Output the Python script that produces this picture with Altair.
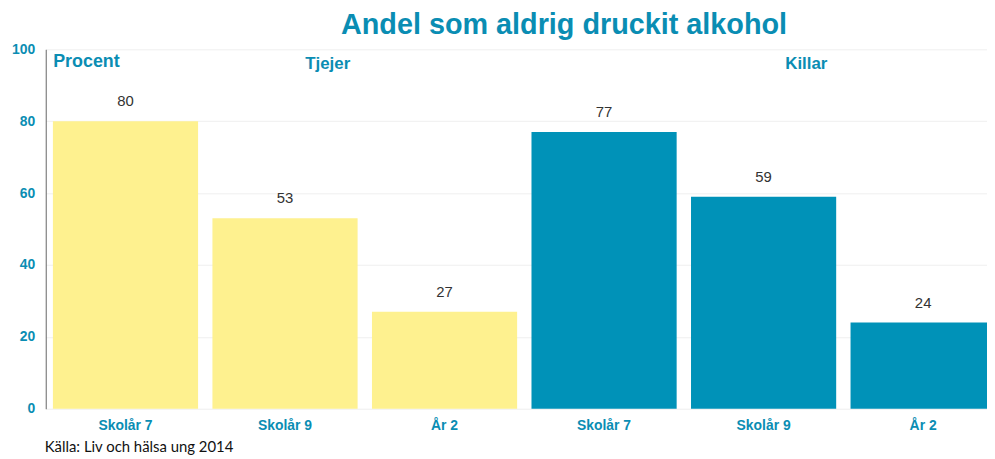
import altair as alt
import pandas as pd

groups = ["Tjejer", "Tjejer", "Tjejer", "Killar", "Killar", "Killar"]
grades = ["Skolår 7", "Skolår 9", "År 2", "Skolår 7", "Skolår 9", "År 2"]
values = [80, 53, 27, 77, 59, 24]
colors_by_group = {"Tjejer": "#FEF18F", "Killar": "#0092B8"}

keys = [f"{g}|{c}" for g, c in zip(groups, grades)]
df = pd.DataFrame({"key": keys, "group": groups, "grade": grades, "value": values})

head_df = pd.DataFrame({"key": [keys[1], keys[4]], "label": ["Tjejer", "Killar"], "y": [96, 96]})

TEAL = "#0A8DB3"
FONT = "Liberation Sans"

x_scale = alt.Scale(domain=keys, paddingInner=0.09, paddingOuter=0.045)
y_scale = alt.Scale(domain=[0, 100], nice=False)

base = alt.Chart(df)

bars = base.mark_bar().encode(
    x=alt.X("key:N", scale=x_scale, sort=keys, title=None,
            axis=alt.Axis(labelExpr="split(datum.label, '|')[1]", labelAngle=0,
                          labelFont=FONT, labelFontSize=14, labelFontWeight="bold",
                          labelColor=TEAL, labelPadding=10, ticks=False, domain=False,
                          grid=False)),
    y=alt.Y("value:Q", scale=y_scale,
            axis=alt.Axis(values=[0, 20, 40, 60, 80, 100], title="Procent", titleAngle=0,
                          titleX=7, titleY=12, titleAlign="left", titleBaseline="middle",
                          titleFont=FONT, titleFontSize=18, titleFontWeight="bold",
                          titleColor=TEAL, labelFont=FONT, labelFontSize=14,
                          labelFontWeight="bold", labelColor=TEAL, labelPadding=11,
                          ticks=False, domainColor="#666666", domainWidth=1,
                          gridColor="#EFEFEF", gridWidth=1)),
    color=alt.Color("group:N", scale=alt.Scale(domain=list(colors_by_group.keys()),
                                               range=list(colors_by_group.values())),
                    legend=None),
)

labels = base.mark_text(baseline="bottom", dy=-12, font=FONT, fontSize=15, color="#333333").encode(
    x=alt.X("key:N", scale=x_scale, sort=keys),
    y=alt.Y("value:Q", scale=y_scale),
    text=alt.Text("value:Q"),
)

heads = alt.Chart(head_df).mark_text(dx=43, font=FONT, fontSize=17, fontWeight="bold",
                                     color=TEAL, baseline="middle").encode(
    x=alt.X("key:N", scale=x_scale, sort=keys),
    y=alt.Y("y:Q", scale=y_scale),
    text="label:N",
)

source = alt.Chart(pd.DataFrame({"t": ["Källa: Liv och hälsa ung 2014"]})).mark_text(
    align="left", baseline="alphabetic", font="Lato", fontSize=15, color="#111111"
).encode(x=alt.value(-1), y=alt.value(406), text="t:N")

chart = alt.layer(bars, labels, heads, source).properties(
    width=964, height=362,
    title=alt.TitleParams("Andel som aldrig druckit alkohol", font=FONT, fontSize=29,
                          fontWeight="bold", color=TEAL, anchor="middle", dx=40, offset=2),
    autosize=alt.AutoSizeParams(type="none"),
    padding={"left": 38, "top": 40, "right": -16, "bottom": 48},
).configure_view(stroke=None)

chart.save("out.html", embed_options={"renderer": "svg", "actions": False})
